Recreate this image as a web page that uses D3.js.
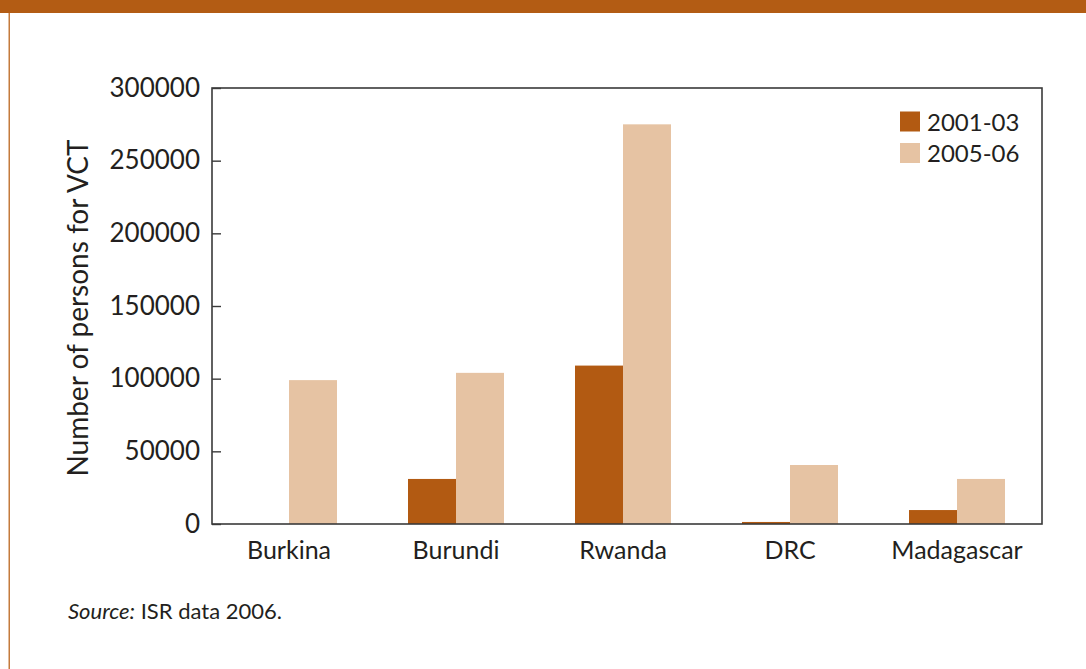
<!DOCTYPE html>
<html>
<head>
<meta charset="utf-8">
<script src="https://cdn.jsdelivr.net/npm/d3@7/dist/d3.min.js"></script>
<style>
  html, body { margin: 0; padding: 0; background: #fff; }
  svg { display: block; }
  text { font-family: Lato, "Open Sans", sans-serif; fill: #231f20; }
</style>
</head>
<body>
<svg id="chart" width="1086" height="669"></svg>
<script>
const categories = ["Burkina", "Burundi", "Rwanda", "DRC", "Madagascar"];
const seriesNames = ["2001-03", "2005-06"];
const values2001 = [0, 31000, 109000, 1400, 9600];
const values2005 = [99000, 104000, 275000, 40600, 31000];
const yTicks = [0, 50000, 100000, 150000, 200000, 250000, 300000];
const colors = ["#B25A12", "#E6C3A3"];

const svg = d3.select("#chart");
const W = 1086, H = 669;
const plot = { left: 212, right: 1042, top: 88, bottom: 524 };

// Frame decorations
svg.append("rect").attr("x", 0).attr("y", 0).attr("width", W).attr("height", 13).attr("fill", "#B35C14");
svg.append("rect").attr("x", 8.5).attr("y", 13).attr("width", 1.5).attr("height", H - 13).attr("fill", "#C47A3C");

const y = d3.scaleLinear().domain([0, 300000]).range([plot.bottom, plot.top]);
const x0 = d3.scaleBand().domain(categories).range([205.5, 1040.5]).padding(0);
const x1 = d3.scaleBand().domain(seriesNames).range([0, 96]);

const data = categories.map((c, i) => ({ cat: c, vals: [values2001[i], values2005[i]] }));

const groups = svg.append("g").selectAll("g").data(data).join("g")
  .attr("transform", d => `translate(${x0(d.cat) + x0.bandwidth() / 2 - 48},0)`);
groups.selectAll("rect").data(d => d.vals.map((v, j) => ({ s: seriesNames[j], v, j })))
  .join("rect")
  .attr("x", d => x1(d.s))
  .attr("width", x1.bandwidth())
  .attr("y", d => y(d.v))
  .attr("height", d => plot.bottom - y(d.v))
  .attr("fill", d => colors[d.j]);

// Box frame
svg.append("rect").attr("x", plot.left).attr("y", plot.top)
  .attr("width", plot.right - plot.left).attr("height", plot.bottom - plot.top)
  .attr("fill", "none").attr("stroke", "#3a3a3a").attr("stroke-width", 1.6);

// Y axis (inward ticks)
const yAxis = d3.axisLeft(y).tickValues(yTicks).tickSize(-9).tickPadding(12).tickFormat(d3.format("d"));
const ga = svg.append("g").attr("transform", `translate(${plot.left},0)`).call(yAxis);
ga.select(".domain").remove();
ga.selectAll(".tick line").attr("stroke", "#3a3a3a").attr("stroke-width", 1.4);
ga.selectAll(".tick text").attr("font-size", 26).attr("font-family", "Lato, sans-serif").attr("fill", "#231f20");

// X axis labels
const xAxis = d3.axisBottom(x0).tickSize(0).tickPadding(17);
const gx = svg.append("g").attr("transform", `translate(0,${plot.bottom})`).call(xAxis);
gx.select(".domain").remove();
gx.selectAll(".tick text").attr("font-size", 25).attr("font-family", "Lato, sans-serif").attr("fill", "#231f20");

// Y title
svg.append("text")
  .attr("transform", `translate(88,${(plot.top + plot.bottom) / 2 + 2}) rotate(-90)`)
  .attr("text-anchor", "middle")
  .attr("font-size", 28)
  .text("Number of persons for VCT");

// Legend
const leg = svg.append("g").attr("transform", "translate(900,111.5)");
seriesNames.forEach((s, i) => {
  leg.append("rect").attr("x", 0).attr("y", i * 31.5).attr("width", 20).attr("height", 20).attr("fill", colors[i]);
  leg.append("text").attr("x", 27).attr("y", i * 31.5 + 19).attr("font-size", 24).text(s);
});

// Source
const src = svg.append("text").attr("x", 68).attr("y", 619).attr("font-size", 22);
src.append("tspan").attr("font-style", "italic").text("Source:");
src.append("tspan").text(" ISR data 2006.");
</script>
</body>
</html>
